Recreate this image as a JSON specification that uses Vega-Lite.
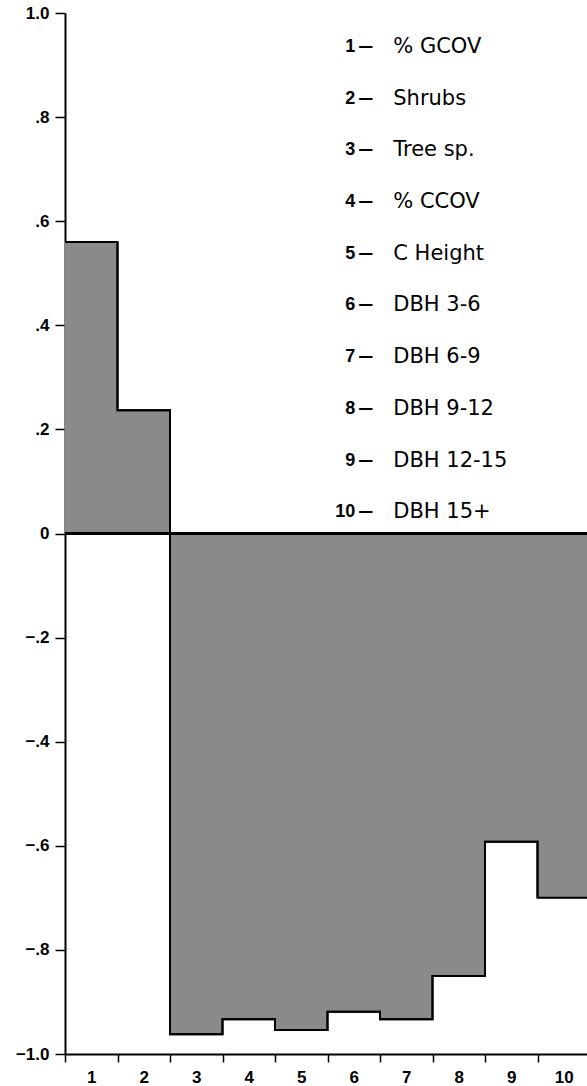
{
  "$schema": "https://vega.github.io/schema/vega-lite/v6.json",
  "width": 522,
  "height": 1041,
  "autosize": {"type": "none"},
  "padding": {"left": 65, "top": 13, "right": 0, "bottom": 32},
  "background": "white",
  "config": {"view": {"stroke": null}, "axis": {"grid": false}},
  "data": {"values": [
    {"id": 1, "label": "%  GCOV", "value": 0.56},
    {"id": 2, "label": "Shrubs", "value": 0.237},
    {"id": 3, "label": "Tree sp.", "value": -0.962},
    {"id": 4, "label": "% CCOV", "value": -0.933},
    {"id": 5, "label": "C Height", "value": -0.954},
    {"id": 6, "label": "DBH 3-6", "value": -0.919},
    {"id": 7, "label": "DBH 6-9", "value": -0.933},
    {"id": 8, "label": "DBH 9-12", "value": -0.85},
    {"id": 9, "label": "DBH 12-15", "value": -0.592},
    {"id": 10, "label": "DBH 15+", "value": -0.70}
  ]},
  "layer": [
    {
      "mark": {"type": "bar", "color": "#8a8a8a", "stroke": "#8a8a8a", "strokeWidth": 1},
      "encoding": {
        "x": {
          "field": "id", "type": "ordinal",
          "scale": {"type": "band", "domain": [1,2,3,4,5,6,7,8,9,10], "range": [0, 525], "paddingInner": 0, "paddingOuter": 0},
          "axis": {"tickBand": "extent", "labelAngle": 0, "labelFont": "Liberation Sans", "labelFontWeight": "bold", "labelFontSize": 17, "labelColor": "black", "tickColor": "black", "tickWidth": 1.5, "tickSize": 8, "domainColor": "black", "domainWidth": 2, "labelPadding": 7, "title": null}
        },
        "y": {
          "field": "value", "type": "quantitative",
          "scale": {"domain": [-1, 1], "nice": false},
          "axis": {"values": [-1, -0.8, -0.6, -0.4, -0.2, 0, 0.2, 0.4, 0.6, 0.8, 1], "labelExpr": "datum.value == 0 ? '0' : (abs(datum.value) > 0.99 ? format(datum.value, '.1f') : replace(format(datum.value, '.1f'), '0.', '.'))", "labelFont": "Liberation Sans", "labelFontWeight": "bold", "labelFontSize": 17, "labelColor": "black", "tickColor": "black", "tickWidth": 1.5, "tickSize": 10, "domainColor": "black", "domainWidth": 2, "labelPadding": 6, "title": null, "grid": false}
        }
      }
    },
    {
      "mark": {"type": "line", "interpolate": "step-after", "color": "black", "strokeWidth": 2},
      "encoding": {
        "x": {"field": "id", "type": "ordinal", "bandPosition": 0},
        "y": {"field": "value", "type": "quantitative", "scale": {"domain": [-1, 1], "nice": false}, "axis": null}
      }
    },
    {
      "mark": {"type": "line", "interpolate": "step-before", "color": "black", "strokeWidth": 2},
      "encoding": {
        "x": {"field": "id", "type": "ordinal", "bandPosition": 1},
        "y": {"field": "value", "type": "quantitative", "scale": {"domain": [-1, 1], "nice": false}, "axis": null}
      }
    },
    {
      "mark": {"type": "rule", "color": "black", "strokeWidth": 2},
      "encoding": {
        "y": {"datum": 0, "type": "quantitative", "scale": {"domain": [-1, 1], "nice": false}, "axis": null}
      }
    },
    {
      "mark": {"type": "text", "align": "right", "baseline": "middle", "font": "Liberation Sans", "fontWeight": "bold", "fontSize": 18, "dx": -51, "color": "black"},
      "encoding": {
        "x": {"datum": 7, "type": "ordinal"},
        "y": {"field": "id", "type": "quantitative", "scale": {"domain": [20.48, 0.342], "nice": false, "zero": false}, "axis": null},
        "text": {"field": "id"}
      }
    },
    {
      "mark": {"type": "text", "align": "left", "baseline": "middle", "font": "DejaVu Sans", "fontWeight": "bold", "fontSize": 15, "dx": -48, "dy": -1, "color": "black"},
      "encoding": {
        "x": {"datum": 7, "type": "ordinal"},
        "y": {"field": "id", "type": "quantitative", "scale": {"domain": [20.48, 0.342], "nice": false, "zero": false}, "axis": null},
        "text": {"value": "—"}
      }
    },
    {
      "mark": {"type": "text", "align": "left", "baseline": "middle", "font": "DejaVu Sans", "fontSize": 21, "dx": -13, "color": "black"},
      "encoding": {
        "x": {"datum": 7, "type": "ordinal"},
        "y": {"field": "id", "type": "quantitative", "scale": {"domain": [20.48, 0.342], "nice": false, "zero": false}, "axis": null},
        "text": {"field": "label"}
      }
    }
  ],
  "resolve": {"scale": {"y": "independent"}}
}
